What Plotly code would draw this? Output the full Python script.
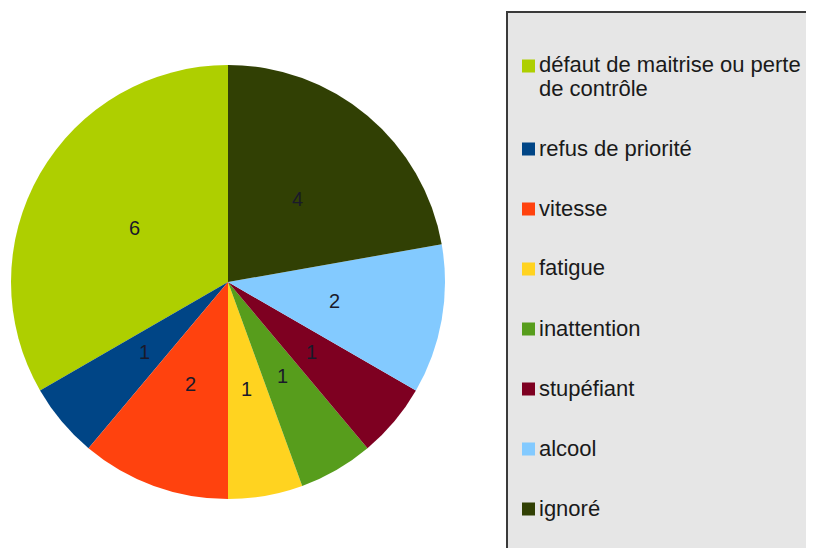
import math
import plotly.graph_objects as go

categories = ["défaut de maitrise ou perte de contrôle", "refus de priorité", "vitesse",
              "fatigue", "inattention", "stupéfiant", "alcool", "ignoré"]
values = [6, 1, 2, 1, 1, 1, 2, 4]
colors = ["#aecf00", "#004586", "#ff420e", "#ffd320", "#579d1c", "#7e0021", "#83caff", "#314004"]
# how legend labels wrap (display lines)
legend_lines = [["défaut de maitrise ou perte", "de contrôle"], ["refus de priorité"], ["vitesse"],
                ["fatigue"], ["inattention"], ["stupéfiant"], ["alcool"], ["ignoré"]]

OFF = 8  # page body offset of the figure
W, H = 814 - OFF, 548 - OFF
FONT = "Liberation Sans, Arial, sans-serif"


def px(x):
    return (x - OFF) / W


def py(y):
    return 1 - (y - OFF) / H


# pie placement in page pixels
pl, pr, pt, pb = 11, 445, 64, 500
cx_px, cy_px = (pl + pr) / 2, (pt + pb) / 2
R = min(pr - pl, pb - pt) / 2

total = sum(values)
# plotly's counterclockwise mode ends the first slice at the rotation angle;
# shift so the first slice starts at 12 o'clock and runs counterclockwise
rotation = -values[0] / total * 360

fig = go.Figure(go.Pie(
    labels=categories, values=values, sort=False, direction="counterclockwise", rotation=rotation,
    marker=dict(colors=colors, line=dict(width=0)),
    textinfo="none", hoverinfo="label+value", showlegend=False,
    domain=dict(x=[px(pl), px(pr)], y=[py(pb), py(pt)]),
))

annotations = []
shapes = []
# value labels at half radius, computed from the data (slices run counterclockwise from 12 o'clock)
cum = 0
for v in values:
    mid = 90 + (cum + v / 2) / total * 360
    cum += v
    x = cx_px + 0.5 * R * math.cos(math.radians(mid))
    y = cy_px - 0.5 * R * math.sin(math.radians(mid))
    annotations.append(dict(x=px(x), y=py(y), xref="paper", yref="paper", text=str(v),
                            showarrow=False, xanchor="center", yanchor="middle",
                            font=dict(family=FONT, size=20, color="#1a1a2a")))

# legend box
shapes.append(dict(type="rect", xref="paper", yref="paper", x0=px(507), x1=px(840),
                   y0=py(580), y1=py(12), fillcolor="#e6e6e6",
                   line=dict(color="#3a3a3a", width=2), layer="below"))
ytop = 66
for i, (lines, col) in enumerate(zip(legend_lines, colors)):
    shapes.append(dict(type="rect", xref="paper", yref="paper", x0=px(522), x1=px(535),
                       y0=py(ytop + 6.5), y1=py(ytop - 6.5), fillcolor=col,
                       line=dict(width=0)))
    for j, ln in enumerate(lines):
        annotations.append(dict(x=px(537), y=py(ytop - 1 + 23 * j), xref="paper", yref="paper",
                                text=ln, showarrow=False, xanchor="left", yanchor="middle",
                                font=dict(family=FONT, size=22, color="#1a1a1a")))
    ytop += 60 + 23 * (len(lines) - 1)

fig.update_layout(width=W, height=H, margin=dict(l=0, r=0, t=0, b=0),
                  paper_bgcolor="white", plot_bgcolor="white",
                  annotations=annotations, shapes=shapes)
fig.write_html("out.html")
